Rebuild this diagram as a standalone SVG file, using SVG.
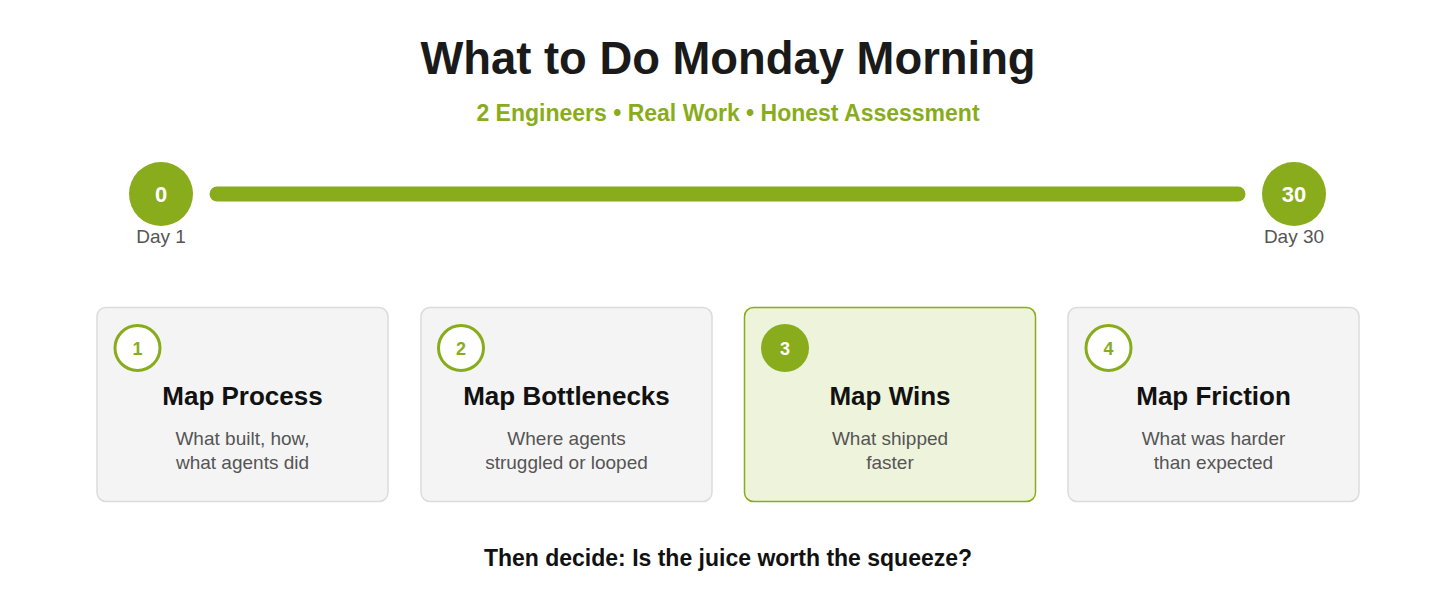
<svg xmlns="http://www.w3.org/2000/svg" width="1456" height="615" viewBox="0 0 1456 615">
<style>
.t{font-family:"Liberation Sans",Arial,sans-serif}
.title{font-size:45.4px;font-weight:bold;fill:#1a1a1a;text-anchor:middle}
.sub{font-size:23px;font-weight:bold;fill:#88ac1b;text-anchor:middle}
.dnum{font-size:22px;font-weight:bold;fill:#fff;text-anchor:middle}
.day{font-size:19px;fill:#555;text-anchor:middle}
.card{fill:#f4f4f4;stroke:#dcdcdc;stroke-width:1.5}
.cardH{fill:#eef3dc;stroke:#88ac1b;stroke-width:1.5}
.nc{fill:#fff;stroke:#88ac1b;stroke-width:3}
.ncH{fill:#88ac1b}
.num{font-size:18px;font-weight:bold;fill:#88ac1b;text-anchor:middle}
.numH{font-size:18px;font-weight:bold;fill:#fff;text-anchor:middle}
.ch{font-size:26px;font-weight:bold;fill:#111;text-anchor:middle}
.cd{font-size:19px;fill:#555;text-anchor:middle}
.foot{font-size:23px;font-weight:bold;fill:#111;text-anchor:middle}
</style>
<rect width="1456" height="615" fill="#fff"/>
<text class="t title" x="728" y="74">What to Do Monday Morning</text>
<text class="t sub" x="728" y="121">2 Engineers • Real Work • Honest Assessment</text>
<g id="connectors">
<line x1="217" y1="194" x2="1238" y2="194" stroke="#88ac1b" stroke-width="15" stroke-linecap="round"/>
</g>
<g id="start">
<circle cx="161" cy="194" r="32" fill="#88ac1b"/>
<text class="t dnum" x="161" y="202">0</text>
<text class="t day" x="161" y="243">Day 1</text>
</g>
<g id="end">
<circle cx="1294" cy="194" r="32" fill="#88ac1b"/>
<text class="t dnum" x="1294" y="202">30</text>
<text class="t day" x="1294" y="243">Day 30</text>
</g>
<g id="card1">
<rect class="card" x="97" y="307.5" width="291" height="194" rx="9"/>
<circle class="nc" cx="137.5" cy="348" r="22.5"/>
<text class="t num" x="137.5" y="355">1</text>
<text class="t ch" x="242.5" y="405">Map Process</text>
<text class="t cd" x="242.5" y="445">What built, how,</text>
<text class="t cd" x="242.5" y="469">what agents did</text>
</g>
<g id="card2">
<rect class="card" x="421" y="307.5" width="291" height="194" rx="9"/>
<circle class="nc" cx="461" cy="348" r="22.5"/>
<text class="t num" x="461" y="355">2</text>
<text class="t ch" x="566.5" y="405">Map Bottlenecks</text>
<text class="t cd" x="566.5" y="445">Where agents</text>
<text class="t cd" x="566.5" y="469">struggled or looped</text>
</g>
<g id="card3">
<rect class="cardH" x="744.5" y="307.5" width="291" height="194" rx="9"/>
<circle class="ncH" cx="785" cy="348" r="24"/>
<text class="t numH" x="785" y="355">3</text>
<text class="t ch" x="890" y="405">Map Wins</text>
<text class="t cd" x="890" y="445">What shipped</text>
<text class="t cd" x="890" y="469">faster</text>
</g>
<g id="card4">
<rect class="card" x="1068" y="307.5" width="291" height="194" rx="9"/>
<circle class="nc" cx="1108.5" cy="348" r="22.5"/>
<text class="t num" x="1108.5" y="355">4</text>
<text class="t ch" x="1213.5" y="405">Map Friction</text>
<text class="t cd" x="1213.5" y="445">What was harder</text>
<text class="t cd" x="1213.5" y="469">than expected</text>
</g>
<text class="t foot" x="728" y="566">Then decide: Is the juice worth the squeeze?</text>
</svg>
